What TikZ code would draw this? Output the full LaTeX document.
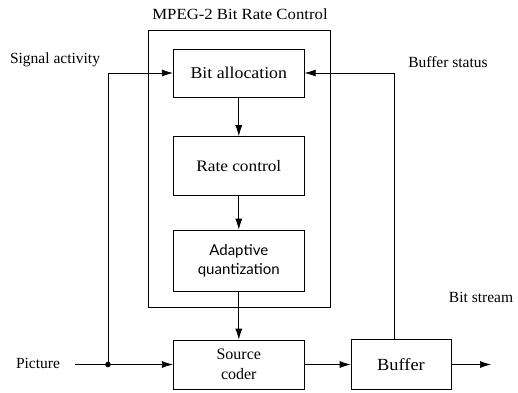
\documentclass[tikz,border=0pt]{standalone}
\usepackage{fontspec}
\setmainfont{Liberation Serif}
\newfontfamily\blkfont{Liberation Serif}[FakeStretch=1.08]
\newfontfamily\adfont{Lato}
\usetikzlibrary{arrows.meta}
\begin{document}
\begin{tikzpicture}[x=1pt,y=-1pt,
  every node/.style={font=\fontsize{15.5}{18}\selectfont},
  blk/.style={draw, line width=0.7pt, minimum width=131pt, inner sep=0pt, align=center, font={\blkfont\fontsize{16}{19}\selectfont}},
  conn/.style={line width=0.7pt, -{Latex[length=11pt,width=7pt]}},
  plain/.style={line width=0.7pt},
  lbl/.style={inner sep=0pt, font={\rmfamily\fontsize{15.5}{18}\selectfont}}]
\useasboundingbox (0,0) rectangle (518,392);
% frame
\draw[line width=0.6pt] (148,30) rectangle (330,307);
\node[lbl, font={\blkfont\fontsize{15.5}{18}\selectfont}] (title) at (240,14) {MPEG-2 Bit Rate Control};
% blocks
\node[blk, minimum height=48pt, font={\blkfont\fontsize{16.5}{19}\selectfont}] (ba) at (238.8,73) {Bit allocation};
\node[blk, minimum height=59pt] (rc) at (238.8,166) {Rate control};
\node[blk, minimum height=61pt, font={\adfont\fontsize{15}{19}\selectfont}] (aq) at (238.8,260.5) {Adaptive\\quantization};
\node[blk, minimum height=49pt, font={\rmfamily\fontsize{16}{20}\selectfont}] (sc) at (238.8,364.5) {Source\\coder};
\node[blk, minimum height=50pt, minimum width=100pt, font={\blkfont\fontsize{17}{20}\selectfont}] (buf) at (401,364.5) {Buffer};
% labels
\node[lbl] (pic) at (38,363) {Picture};
\node[lbl] (sig) at (55,60) {Signal activity};
\node[lbl] (bs) at (448,62) {Buffer status};
\node[lbl] (bst) at (481,297) {Bit stream};
% coordinates
\coordinate (pin) at (75,364.5);
\coordinate (dot) at (108,364.5);
\coordinate (fb) at (394,73);
\coordinate (out) at (491,364.5);
% connectors
\draw[plain] (pin) -- (dot);
\draw[conn] (dot) -- (sc.west);
\fill (dot) circle (2.8pt);
\draw[conn] (dot) |- (ba.west);
\draw[conn] (ba.south) -- (rc.north);
\draw[conn] (rc.south) -- (aq.north);
\draw[conn] (aq.south) -- (sc.north);
\draw[conn] (sc.east) -- (buf.west);
\draw[conn] (buf.east) -- (out);
\draw[plain] (buf.north -| fb) -- (fb);
\draw[conn] (fb) -- (ba.east);
\end{tikzpicture}
\end{document}
